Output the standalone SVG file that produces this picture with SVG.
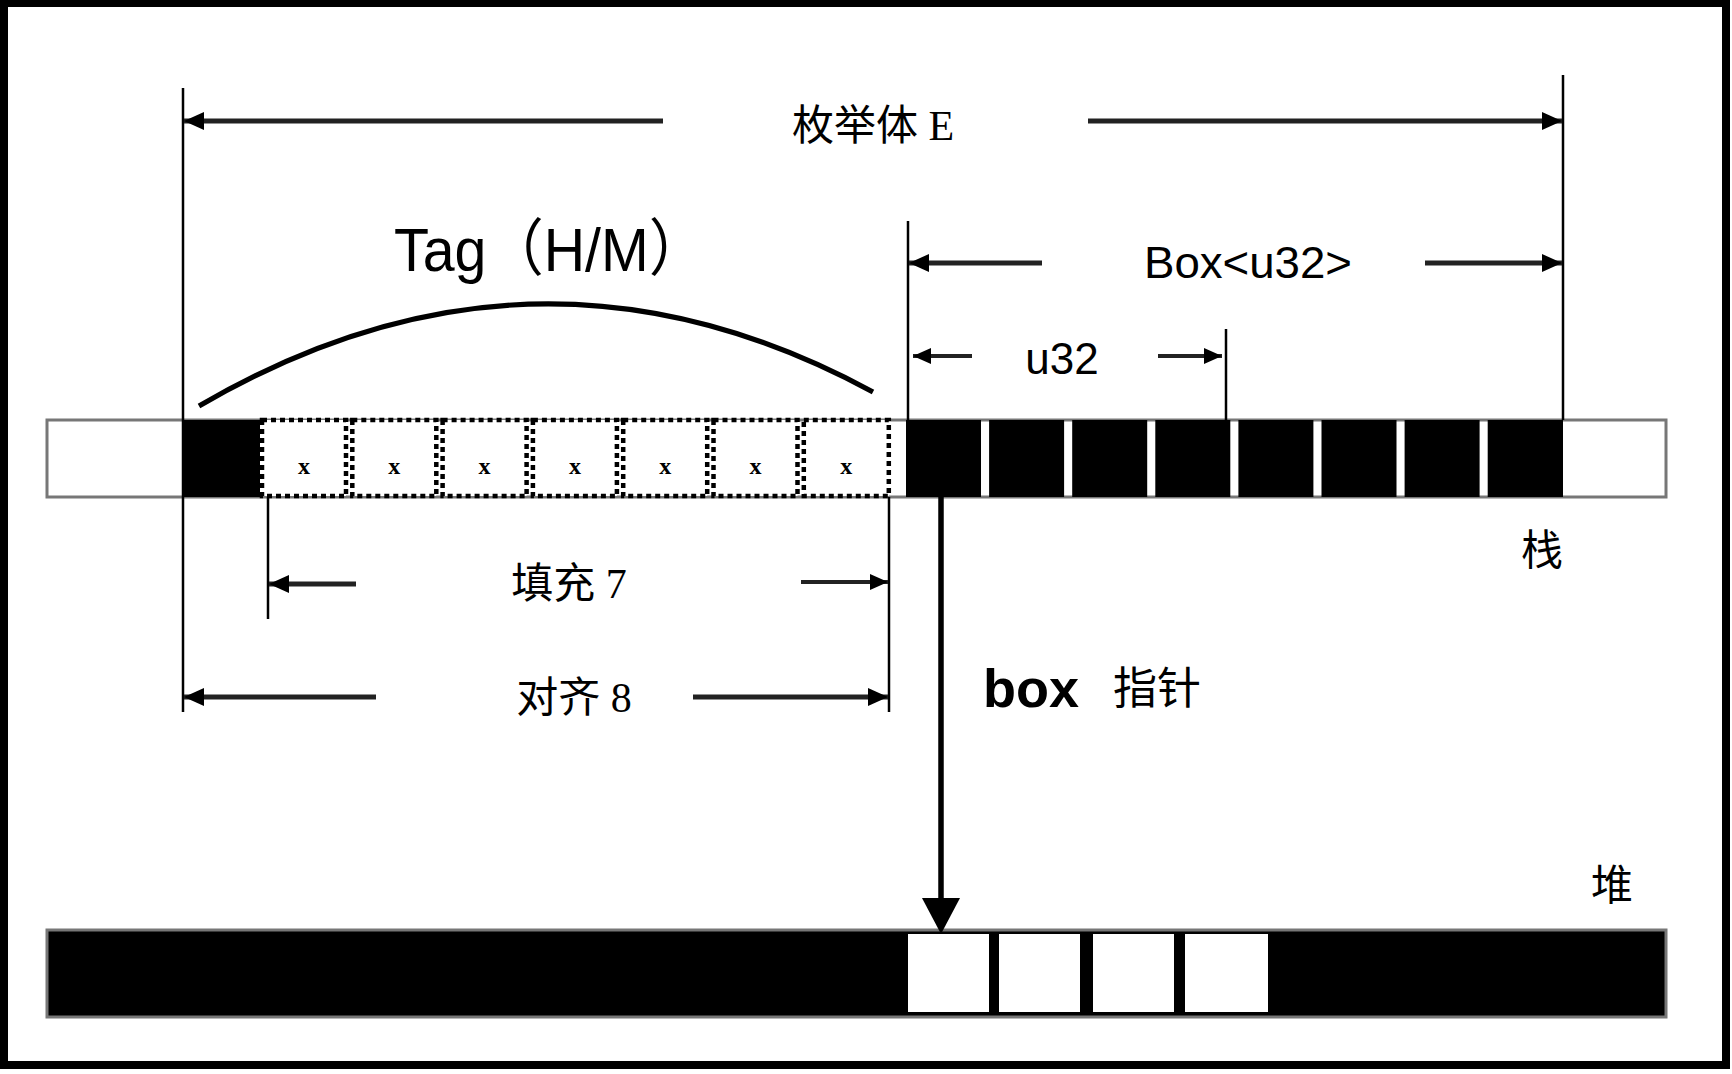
<svg xmlns="http://www.w3.org/2000/svg" width="1732" height="1074" viewBox="0 0 1732 1074">
<defs>
<style>
.serif{font-family:"Liberation Serif","Noto Sans CJK SC",serif;fill:#000}
.sans{font-family:"Liberation Sans","Noto Sans CJK SC",sans-serif;fill:#000}
.vl{stroke:#000;stroke-width:2.5;fill:none}
.ar{stroke:#222;stroke-width:5;fill:none}
.ar2{stroke:#222;stroke-width:4;fill:none}
.blk{fill:#000}
.dot{fill:#fff;stroke:#000;stroke-width:4.5;stroke-dasharray:5 4}
.x{font-family:"Liberation Serif",serif;font-size:24px;font-weight:bold;text-anchor:middle}
</style>
<marker id="ah" viewBox="0 0 20 18" refX="20" refY="9" markerWidth="20" markerHeight="18" orient="auto" markerUnits="userSpaceOnUse"><path d="M0,0 L20,9 L0,18 z" fill="#000"/></marker>
<marker id="ahs" viewBox="0 0 18 16" refX="18" refY="8" markerWidth="18" markerHeight="16" orient="auto" markerUnits="userSpaceOnUse"><path d="M0,0 L18,8 L0,16 z" fill="#000"/></marker>
</defs>
<rect x="0" y="0" width="1732" height="1074" fill="#fff"/>
<rect x="4" y="3" width="1722" height="1062" fill="none" stroke="#000" stroke-width="8"/>

<g id="stack">
<rect x="47" y="420" width="1619" height="77" fill="#fff" stroke="#777" stroke-width="3"/>
<rect class="blk" x="183" y="420" width="77" height="77"/>
<g id="padding">
<rect class="dot" x="262" y="420" width="84" height="76"/>
<rect class="dot" x="352.3" y="420" width="84" height="76"/>
<rect class="dot" x="442.6" y="420" width="84" height="76"/>
<rect class="dot" x="532.9" y="420" width="84" height="76"/>
<rect class="dot" x="623.2" y="420" width="84" height="76"/>
<rect class="dot" x="713.5" y="420" width="84" height="76"/>
<rect class="dot" x="803.8" y="420" width="85" height="76"/>
<text class="x" x="304" y="474">x</text>
<text class="x" x="394.3" y="474">x</text>
<text class="x" x="484.6" y="474">x</text>
<text class="x" x="574.9" y="474">x</text>
<text class="x" x="665.2" y="474">x</text>
<text class="x" x="755.5" y="474">x</text>
<text class="x" x="846.3" y="474">x</text>
</g>
<g id="u64cells">
<rect class="blk" x="906" y="420" width="75" height="77"/>
<rect class="blk" x="989.1" y="420" width="75" height="77"/>
<rect class="blk" x="1072.2" y="420" width="75" height="77"/>
<rect class="blk" x="1155.3" y="420" width="75" height="77"/>
<rect class="blk" x="1238.4" y="420" width="75" height="77"/>
<rect class="blk" x="1321.5" y="420" width="75" height="77"/>
<rect class="blk" x="1404.6" y="420" width="75" height="77"/>
<rect class="blk" x="1487.7" y="420" width="75.3" height="77"/>
</g>
<text class="serif" x="1542" y="565" font-size="42" text-anchor="middle">栈</text>
</g>

<g id="heap">
<rect x="47" y="930" width="1619" height="87" fill="#000" stroke="#777" stroke-width="3"/>
<rect x="908" y="934" width="81" height="78" fill="#fff"/>
<rect x="999" y="934" width="81" height="78" fill="#fff"/>
<rect x="1093" y="934" width="81" height="78" fill="#fff"/>
<rect x="1185" y="934" width="83" height="78" fill="#fff"/>
<text class="serif" x="1612" y="900" font-size="42" text-anchor="middle">堆</text>
</g>

<g id="connectors">
<line class="vl" x1="183" y1="88" x2="183" y2="712"/>
<line class="vl" x1="1563" y1="75" x2="1563" y2="420"/>
<line class="vl" x1="908" y1="221" x2="908" y2="420"/>
<line class="vl" x1="1226" y1="329" x2="1226" y2="420"/>
<line class="vl" x1="268" y1="497" x2="268" y2="619"/>
<line class="vl" x1="889" y1="497" x2="889" y2="712"/>

<line class="ar" x1="663" y1="121" x2="184" y2="121" marker-end="url(#ah)"/>
<line class="ar" x1="1088" y1="121" x2="1562" y2="121" marker-end="url(#ah)"/>
<line class="ar" x1="1042" y1="263" x2="909" y2="263" marker-end="url(#ah)"/>
<line class="ar" x1="1425" y1="263" x2="1562" y2="263" marker-end="url(#ah)"/>
<line class="ar2" x1="972" y1="356" x2="913" y2="356" marker-end="url(#ahs)"/>
<line class="ar2" x1="1158" y1="356" x2="1222" y2="356" marker-end="url(#ahs)"/>
<line class="ar" x1="356" y1="584" x2="269" y2="584" marker-end="url(#ah)"/>
<line class="ar2" x1="801" y1="582" x2="888" y2="582" marker-end="url(#ahs)"/>
<line class="ar" x1="376" y1="697" x2="184" y2="697" marker-end="url(#ah)"/>
<line class="ar" x1="693" y1="697" x2="888" y2="697" marker-end="url(#ah)"/>

<path d="M199,406 Q536,209 873,392" fill="none" stroke="#000" stroke-width="5"/>

<line x1="941" y1="497" x2="941" y2="902" stroke="#000" stroke-width="5.5"/>
<polygon points="922,898 960,898 941,934" fill="#000"/>
</g>

<g id="labels">
<text class="serif" x="873" y="140" font-size="42" text-anchor="middle">枚举体 E</text>
<text class="sans" x="394" y="271" font-size="62" textLength="312" lengthAdjust="spacingAndGlyphs">Tag（H/M）</text>
<text class="sans" x="1248" y="278" font-size="44" text-anchor="middle" textLength="208" lengthAdjust="spacingAndGlyphs">Box&lt;u32&gt;</text>
<text class="sans" x="1062" y="374" font-size="44" text-anchor="middle">u32</text>
<text class="serif" x="569" y="598" font-size="42" text-anchor="middle">填充 7</text>
<text class="serif" x="574" y="712" font-size="42" text-anchor="middle">对齐 8</text>
<text class="sans" x="983" y="707" font-size="54" font-weight="bold">box</text>
<text class="serif" x="1113" y="704" font-size="44">指针</text>
</g>
</svg>
